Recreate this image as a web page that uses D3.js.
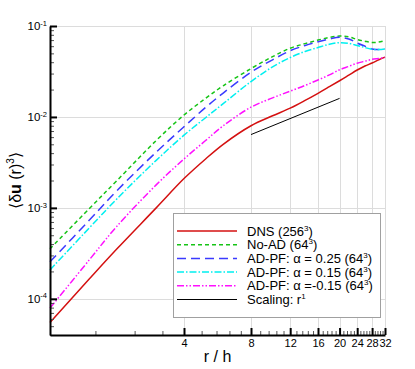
<!DOCTYPE html>
<html>
<head>
<meta charset="utf-8">
<script src="https://cdn.jsdelivr.net/npm/d3@7"></script>
<style>
    body { margin: 0; background: #fff; }
    svg { font-family: "Liberation Sans", Arial, sans-serif; }
</style>
</head>
<body>
<svg id="graph" width="415" height="369"></svg>
<script>
// r / h sample points shared by all the curves
var rVals = [1, 1.5, 2, 3, 4, 5, 6, 8, 10, 12, 14, 16, 18, 20, 22, 24, 26, 28, 30, 32];

var dns   = [5.5e-5, 1.65e-4, 3.55e-4, 1.0e-3, 2.1e-3, 3.45e-3, 5.0e-3, 8.0e-3, 1.03e-2, 1.25e-2,
             1.52e-2, 1.82e-2, 2.15e-2, 2.5e-2, 2.88e-2, 3.28e-2, 3.63e-2, 3.92e-2, 4.25e-2, 4.55e-2];
var noAd  = [3.55e-4, 9.8e-4, 2.0e-3, 5.5e-3, 1.05e-2, 1.6e-2, 2.2e-2, 3.4e-2, 4.6e-2, 5.7e-2,
             6.4e-2, 7.0e-2, 7.5e-2, 7.75e-2, 7.6e-2, 7.1e-2, 6.8e-2, 6.6e-2, 6.65e-2, 6.9e-2];
var adp25 = [2.55e-4, 7.3e-4, 1.55e-3, 4.1e-3, 7.8e-3, 1.27e-2, 1.83e-2, 3.1e-2, 4.25e-2, 5.35e-2,
             6.1e-2, 6.7e-2, 7.2e-2, 7.5e-2, 7.2e-2, 6.5e-2, 6.0e-2, 5.6e-2, 5.5e-2, 5.6e-2];
var adp15 = [2.08e-4, 6.0e-4, 1.26e-3, 3.33e-3, 6.3e-3, 9.8e-3, 1.4e-2, 2.45e-2, 3.55e-2, 4.5e-2,
             5.25e-2, 5.8e-2, 6.3e-2, 6.55e-2, 6.45e-2, 6.1e-2, 5.8e-2, 5.55e-2, 5.5e-2, 5.6e-2];
var adm15 = [7.9e-5, 2.67e-4, 6.3e-4, 1.79e-3, 3.45e-3, 5.5e-3, 8.0e-3, 1.28e-2, 1.62e-2, 1.92e-2,
             2.22e-2, 2.55e-2, 2.9e-2, 3.3e-2, 3.6e-2, 3.9e-2, 4.1e-2, 4.3e-2, 4.4e-2, 4.5e-2];

// r^1 reference line
var scalingR = [8, 20];
var scalingVals = [6.4e-3, 1.6e-2];

var xTickLabels = [4, 8, 12, 16, 20, 24, 28, 32];
var yTickPowers = [-1, -2, -3, -4];

var legendText = ["DNS (256", "No-AD (64", "AD-PF: \u03b1 = 0.25 (64", "AD-PF: \u03b1 = 0.15 (64",
                  "AD-PF: \u03b1 =-0.15 (64", "Scaling: r"];
var legendSup = ["3", "3", "3", "3", "3", "1"];
var legendTail = [")", ")", ")", ")", ")", ""];

var graph = (function () {
    function create() {
        var svg = d3.select("svg#graph"),
            left = 50, right = 385, top = 26, bottom = 335;

        var x = d3.scaleLog().domain([1, 32]).range([left, right]),
            y = d3.scaleLog().domain([4e-5, 1e-1]).range([bottom, top]);

        var yMajor = yTickPowers.map(function (p) { return Math.pow(10, p); }),
            yMinor = [];
        [-5, -4, -3, -2].forEach(function (p) {
            d3.range(2, 10).forEach(function (m) {
                var v = m * Math.pow(10, p);
                if (v >= 4e-5 && v < 1e-1) yMinor.push(v);
            });
        });
        // minor ticks every 0.8 along r
        var xMinor = d3.range(2, 41).filter(function (i) { return i % 5 !== 0; })
            .map(function (i) { return i * 0.8; });

        // Grid
        var grid = svg.append("g").attr("class", "grid")
            .attr("stroke", "#dcdcdc").attr("stroke-width", 1);
        grid.selectAll("line.h").data(yMajor).enter().append("line")
            .attr("x1", left).attr("x2", right)
            .attr("y1", function (d) { return Math.round(y(d)) + 0.5; })
            .attr("y2", function (d) { return Math.round(y(d)) + 0.5; });
        grid.selectAll("line.v").data(xTickLabels).enter().append("line")
            .attr("y1", top).attr("y2", bottom)
            .attr("x1", function (d) { return Math.round(x(d)) + 0.5; })
            .attr("x2", function (d) { return Math.round(x(d)) + 0.5; });

        var series = [
            {values: dns, color: "#d41010", dash: null},
            {values: noAd, color: "#16c416", dash: "4,3"},
            {values: adp25, color: "#3a3aff", dash: "9,5"},
            {values: adp15, color: "#00f0f0", dash: "7,2,1.5,2"},
            {values: adm15, color: "#ff10ff", dash: "7,2,1.5,2,1.5,2"}
        ];

        var line = d3.line()
            .x(function (d) { return x(d[0]); })
            .y(function (d) { return y(d[1]); })
            .curve(d3.curveCatmullRom.alpha(0.5));

        series.forEach(function (s) {
            svg.append("path")
                .attr("fill", "none")
                .attr("stroke", s.color)
                .attr("stroke-width", 1.5)
                .attr("stroke-dasharray", s.dash)
                .attr("d", line(d3.zip(rVals, s.values)));
        });

        svg.append("path")
            .attr("fill", "none")
            .attr("stroke", "#000")
            .attr("stroke-width", 1)
            .attr("d", line(d3.zip(scalingR, scalingVals)));

        // Legend
        var lg = svg.append("g").attr("transform", "translate(173,213)");
        lg.append("rect")
            .attr("x", 0.5).attr("y", 0.5).attr("width", 207).attr("height", 104)
            .attr("fill", "#fff").attr("stroke", "#a0a0a0");
        var rows = series.concat([{color: "#000", dash: null}]);
        rows.forEach(function (s, i) {
            var ry = 18 + i * 13.7;
            lg.append("line")
                .attr("x1", 4).attr("x2", 64).attr("y1", ry).attr("y2", ry)
                .attr("stroke", s.color)
                .attr("stroke-width", i === 5 ? 1.2 : 1.5)
                .attr("stroke-dasharray", s.dash);
            var t = lg.append("text")
                .attr("x", 74).attr("y", ry + 4.5)
                .attr("font-size", "13px").attr("fill", "#000");
            t.append("tspan").text(legendText[i]);
            t.append("tspan").attr("font-size", "8px").attr("dy", -5).text(legendSup[i]);
            t.append("tspan").attr("dy", 5).text(legendTail[i]);
        });

        // Axes
        var xAxis = d3.axisBottom(x).tickValues(xTickLabels)
                .tickFormat(d3.format("d")).tickSizeInner(-7).tickSizeOuter(0).tickPadding(4),
            xMinorAxis = d3.axisBottom(x).tickValues(xMinor)
                .tickFormat("").tickSizeInner(-4).tickSizeOuter(0),
            yAxis = d3.axisLeft(y).tickValues(yMajor)
                .tickFormat("").tickSizeInner(-7).tickSizeOuter(0).tickPadding(3),
            yMinorAxis = d3.axisLeft(y).tickValues(yMinor)
                .tickFormat("").tickSizeInner(-4).tickSizeOuter(0);

        svg.append("g")
            .attr("transform", "translate(0," + bottom + ")")
            .call(xMinorAxis)
            .call(function (g) { g.select(".domain").remove(); })
            .selectAll("line").attr("stroke", "#555");

        svg.append("g")
            .attr("transform", "translate(" + left + ",0)")
            .call(yMinorAxis)
            .call(function (g) { g.select(".domain").remove(); })
            .selectAll("line").attr("stroke", "#555");

        var gx = svg.append("g")
            .attr("class", "x axis")
            .attr("transform", "translate(0," + bottom + ")")
            .call(xAxis);
        gx.selectAll("line").attr("stroke-width", 2);
        gx.select(".domain").attr("stroke-width", 2);
        gx.selectAll("text").attr("font-size", "11px").attr("fill", "#000")
            .attr("font-family", "Liberation Sans, Arial, sans-serif");

        var gy = svg.append("g")
            .attr("class", "y axis")
            .attr("transform", "translate(" + left + ",0)")
            .call(yAxis);
        gy.selectAll("line").attr("stroke-width", 2);
        gy.select(".domain").attr("stroke-width", 2);
        gy.selectAll(".tick text")
            .attr("x", -3)
            .attr("font-size", "11.5px").attr("fill", "#000")
            .attr("font-family", "Liberation Sans, Arial, sans-serif")
            .each(function (d) {
                var t = d3.select(this);
                t.append("tspan").text("10");
                t.append("tspan").attr("font-size", "7.5px").attr("dy", "-4.5")
                    .text(String(Math.round(Math.log10(d))));
            });

        // Axis titles
        svg.append("text")
            .attr("x", (left + right) / 2).attr("y", 362)
            .attr("text-anchor", "middle").attr("font-size", "16px")
            .text("r / h");

        var yl = svg.append("text")
            .attr("transform", "translate(21," + ((top + bottom) / 2) + ") rotate(-90)")
            .attr("text-anchor", "middle").attr("font-size", "16px");
        yl.append("tspan").text("\u27e8\u03b4");
        yl.append("tspan").attr("font-weight", "bold").text("u");
        yl.append("tspan").text(" (r)");
        yl.append("tspan").attr("font-size", "10px").attr("dy", -7).text("3");
        yl.append("tspan").attr("dy", 7).text("\u27e9");
    }

    return {
        create: create
    };
})();

graph.create();
</script>
</body>
</html>
